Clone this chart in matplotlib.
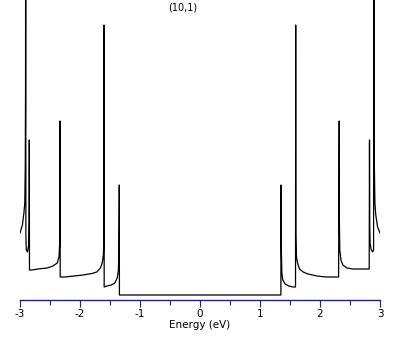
import matplotlib
matplotlib.use('Agg')
import matplotlib.pyplot as plt
from matplotlib.ticker import MultipleLocator

# density of states (arbitrary units, gap floor = 0)
energy = [-3.00, -2.96, -2.935, -2.92, -2.912, -2.908, -2.905, -2.902, -2.895,
          -2.875, -2.855, -2.848, -2.845, -2.842, -2.80, -2.70, -2.55, -2.45,
          -2.38, -2.35, -2.34, -2.335, -2.333, -2.330, -2.25, -2.10, -1.95,
          -1.80, -1.72, -1.66, -1.63, -1.61, -1.603, -1.600, -1.597, -1.55,
          -1.48, -1.42, -1.38, -1.36, -1.352, -1.348, -1.345, -1.343,
          1.348, 1.350, 1.352, 1.356, 1.364, 1.38, 1.42, 1.48, 1.55, 1.592,
          1.595, 1.598, 1.603, 1.61, 1.63, 1.66, 1.72, 1.80, 1.95, 2.10, 2.31,
          2.32, 2.323, 2.33, 2.35, 2.38, 2.45, 2.55, 2.70, 2.82, 2.825, 2.829,
          2.835, 2.85, 2.875, 2.893, 2.898, 2.902, 2.906, 2.915, 2.93, 2.96,
          3.00]
dos = [0.62, 0.70, 0.82, 0.92, 1.30, 2.00, 4.00, 0.60, 0.45,
       0.43, 0.50, 0.75, 1.55, 0.25, 0.25, 0.26, 0.27, 0.29,
       0.32, 0.38, 0.50, 0.75, 1.74, 0.18, 0.18, 0.19, 0.20,
       0.215, 0.23, 0.27, 0.32, 0.40, 0.55, 2.70, 0.08, 0.09,
       0.10, 0.12, 0.17, 0.25, 0.45, 0.80, 1.10, 0.0,
       0.0, 1.10, 0.80, 0.45, 0.22, 0.15, 0.11, 0.09, 0.08, 0.08,
       2.70, 0.60, 0.45, 0.37, 0.31, 0.26, 0.23, 0.21, 0.19, 0.18, 0.18,
       1.74, 0.75, 0.45, 0.35, 0.30, 0.27, 0.26, 0.26, 0.26, 1.55, 0.70,
       0.52, 0.46, 0.43, 0.45, 4.00, 2.00, 1.30, 0.92, 0.80, 0.68,
       0.62]

title = '(10,1)'
xlabel = 'Energy (eV)'
axis_blue = '#1a1aa8'

plt.rcParams['font.family'] = 'DejaVu Sans'
plt.rcParams['axes.unicode_minus'] = False
fig = plt.figure(figsize=(4.09, 3.45), dpi=100)
ax = fig.add_axes([20/409, 45/345, 360/409, 300/345])
ax.plot(energy, dos, color='black', lw=0.9)
ax.set_xlim(-3, 3)
ax.set_ylim(-0.05, 2.95)

for s in ['top', 'left', 'right']:
    ax.spines[s].set_visible(False)
ax.spines['bottom'].set_color(axis_blue)
ax.spines['bottom'].set_linewidth(1.0)
ax.set_yticks([])
ax.xaxis.set_major_locator(MultipleLocator(1))
ax.xaxis.set_minor_locator(MultipleLocator(0.5))
ax.tick_params(axis='x', which='major', direction='out', length=5, width=0.8,
               color=axis_blue, labelsize=7.5, pad=1.5)
ax.tick_params(axis='x', which='minor', direction='out', length=3.6, width=0.8,
               color=axis_blue)
ax.set_xlabel(xlabel, fontsize=7.5, labelpad=1)

fig.text(183/409, 1 - 7/345, title, ha='center', va='center', fontsize=7)

fig.savefig('out.png', dpi=100)
